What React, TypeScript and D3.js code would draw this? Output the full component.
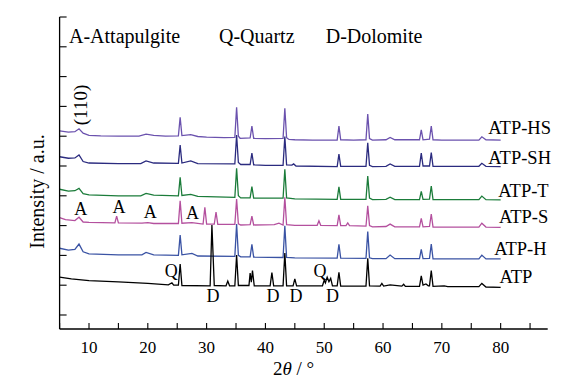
import React from "react";
import * as d3 from "d3";

type Pt = [number, number];

const seriesNames = ["ATP-HS", "ATP-SH", "ATP-T", "ATP-S", "ATP-H", "ATP"];
const seriesColors = ["#6b52ae", "#2b2b7f", "#1b7c3a", "#b4509e", "#3a53a4", "#000000"];

const atpHS: Pt[] = [
  [5, 6.18], [6.5, 6.14], [7.6, 6.15], [8.3, 6.25], [9.0, 6.1], [10, 6.03], [12, 6.01], [15, 6.0], [18.5, 6.0],
  [19.7, 6.07], [21, 6.03], [23, 6.0], [25.2, 6.01], [25.5, 6.63], [25.8, 6.02], [27.3, 6.05], [28.5, 5.99],
  [30, 5.97], [33, 5.95], [34.8, 5.96], [35.1, 6.97], [35.4, 6.0], [35.7, 5.93], [37.4, 5.94], [37.7, 6.34],
  [38.0, 5.93], [40, 5.92], [43.0, 5.93], [43.3, 6.94], [43.6, 5.95], [44, 5.89], [45, 5.88], [48, 5.87],
  [52.2, 5.87], [52.5, 6.34], [52.8, 5.88], [55, 5.87], [57.1, 5.88], [57.4, 6.74], [57.7, 5.92], [58.2, 5.87],
  [60.5, 5.88], [61.2, 5.96], [62, 5.88], [66.2, 5.88], [66.5, 6.21], [66.8, 5.88], [67.9, 5.9], [68.2, 6.34],
  [68.5, 5.88], [70, 5.87], [76.3, 5.87], [76.8, 5.98], [77.5, 5.88], [80, 5.87],
];

const atpSH: Pt[] = [
  [5, 5.31], [6.5, 5.26], [7.6, 5.27], [8.3, 5.37], [9.0, 5.15], [10, 5.1], [15, 5.08], [18.8, 5.08],
  [19.7, 5.17], [21, 5.1], [25.2, 5.09], [25.5, 5.7], [25.8, 5.1], [27.3, 5.17], [28.5, 5.08], [34.8, 5.07],
  [35.1, 6.04], [35.4, 5.12], [35.8, 5.05], [37.4, 5.05], [37.7, 5.43], [38.0, 5.04], [40, 5.02], [43.0, 5.02],
  [43.3, 5.99], [43.6, 5.04], [44.5, 5.03], [44.8, 5.07], [45.2, 5.0], [52.2, 4.98], [52.5, 5.4], [52.8, 4.99],
  [57.1, 4.99], [57.4, 5.78], [57.7, 5.02], [58.2, 4.98], [60.5, 4.99], [61.2, 5.07], [62, 4.99], [66.2, 4.99],
  [66.5, 5.43], [66.8, 5.0], [67.9, 5.0], [68.2, 5.45], [68.5, 4.99], [76.3, 4.99], [76.8, 5.09], [77.5, 4.99],
  [80, 4.98],
];

const atpT: Pt[] = [
  [5, 4.22], [6.5, 4.16], [7.6, 4.17], [8.3, 4.25], [9.0, 4.07], [10, 4.03], [15, 4.0], [18.8, 4.0],
  [19.7, 4.08], [21, 4.02], [25.2, 4.0], [25.5, 4.62], [25.8, 4.01], [27.3, 4.05], [28.5, 3.98], [34.8, 3.95],
  [35.1, 4.92], [35.4, 4.0], [35.8, 3.93], [37.4, 3.93], [37.7, 4.31], [38.0, 3.92], [43.0, 3.92], [43.3, 4.89],
  [43.6, 3.93], [45, 3.9], [52.2, 3.88], [52.5, 4.3], [52.8, 3.88], [57.1, 3.88], [57.4, 4.66], [57.7, 3.92],
  [58.2, 3.87], [60.5, 3.88], [61.2, 3.95], [62, 3.87], [66.2, 3.87], [66.5, 4.15], [66.8, 3.88], [67.9, 3.89],
  [68.2, 4.33], [68.5, 3.87], [76.3, 3.87], [76.8, 3.99], [77.5, 3.87], [80, 3.86],
];

const atpS: Pt[] = [
  [5, 3.27], [6, 3.2], [7.6, 3.17], [8.3, 3.28], [9.0, 3.12], [10, 3.11], [14.4, 3.09], [14.7, 3.32],
  [15.0, 3.09], [19, 3.08], [20, 3.1], [21, 3.07], [25.2, 3.07], [25.5, 3.83], [25.8, 3.08], [27.5, 3.1],
  [29.4, 3.05], [29.7, 3.61], [30.0, 3.05], [31.3, 3.05], [31.6, 3.45], [31.9, 3.04], [34.8, 3.04], [35.1, 3.89],
  [35.4, 3.06], [35.8, 3.02], [37.4, 3.03], [37.7, 3.32], [38.0, 3.02], [41.5, 3.03], [42.3, 3.08], [43.0, 3.02],
  [43.3, 3.95], [43.6, 3.03], [45, 3.01], [48.8, 3.01], [49.1, 3.16], [49.4, 3.01], [52.2, 3.0], [52.5, 3.36],
  [52.8, 3.0], [53.7, 3.0], [54.0, 3.09], [54.3, 3.0], [57.1, 2.98], [57.4, 3.66], [57.7, 3.0], [58.2, 2.96],
  [60.5, 2.97], [61.2, 3.05], [62, 2.96], [66.2, 2.96], [66.5, 3.24], [66.8, 2.96], [67.9, 2.97], [68.2, 3.39],
  [68.5, 2.95], [76.3, 2.95], [76.8, 3.08], [77.5, 2.95], [80, 2.94],
];

const atpH: Pt[] = [
  [5, 2.24], [6.5, 2.18], [7.6, 2.2], [8.3, 2.38], [9.0, 2.12], [10, 2.05], [15, 2.02], [19, 2.02],
  [19.7, 2.1], [21, 2.02], [25.2, 2.0], [25.5, 2.68], [25.8, 2.02], [27.5, 2.07], [28.5, 1.98], [34.8, 1.97],
  [35.1, 3.05], [35.4, 2.0], [35.8, 1.95], [37.4, 1.95], [37.7, 2.37], [38.0, 1.94], [43.0, 1.93], [43.3, 2.99],
  [43.6, 1.93], [45, 1.92], [52.2, 1.91], [52.5, 2.37], [52.8, 1.91], [57.1, 1.9], [57.4, 2.8], [57.7, 1.92],
  [58.2, 1.89], [60.5, 1.89], [61.2, 2.01], [62, 1.89], [66.2, 1.89], [66.5, 2.2], [66.8, 1.89], [67.9, 1.9],
  [68.2, 2.38], [68.5, 1.88], [76.3, 1.88], [76.8, 2.01], [77.5, 1.88], [80, 1.88],
];

const atp: Pt[] = [
  [5, 1.27], [7, 1.21], [10, 1.15], [15, 1.11], [20, 1.06], [23.5, 1.01], [24.1, 1.08], [24.4, 1.0],
  [25.2, 1.0], [25.5, 1.71], [25.8, 0.99], [30.6, 0.98], [30.9, 3.02], [31.3, 0.99], [33.3, 0.98], [33.6, 1.14],
  [33.9, 0.98], [34.8, 0.98], [35.1, 2.01], [35.4, 0.99], [37.2, 0.99], [37.4, 1.41], [37.6, 1.1], [37.8, 1.49],
  [38.1, 0.98], [40.8, 0.98], [41.1, 1.42], [41.4, 0.98], [43.0, 0.98], [43.3, 2.08], [43.6, 0.98], [44.7, 0.98],
  [45.0, 1.21], [45.3, 0.98], [49.7, 0.98], [50.0, 1.17], [50.2, 1.08], [50.5, 1.27], [50.8, 1.12], [51.1, 1.23],
  [51.4, 0.98], [52.2, 0.98], [52.5, 1.43], [52.8, 0.97], [57.1, 0.97], [57.4, 1.9], [57.7, 0.98], [59.5, 0.97],
  [59.8, 1.06], [60.1, 0.97], [61.2, 1.01], [63.2, 0.97], [63.5, 1.03], [63.8, 0.96], [66.2, 0.96], [66.5, 1.31],
  [66.8, 1.0], [67.3, 1.04], [67.7, 0.98], [67.9, 0.98], [68.2, 1.49], [68.5, 0.96], [70.4, 0.98], [71, 0.95],
  [76.3, 0.95], [76.8, 1.06], [77.5, 0.94], [80, 0.93],
];

const seriesData: Pt[][] = [atpHS, atpSH, atpT, atpS, atpH, atp];

// label anchor positions [2θ, intensity] for series names
const seriesLabelPos: Pt[] = [[77.9, 6.07], [77.9, 5.07], [79.6, 3.97], [79.7, 3.08], [78.9, 2.01], [79.8, 1.06]];

// phase markers: letter, 2θ, intensity (baseline)
const peakMarks: [string, number, number][] = [
  ["A", 8.6, 3.36], ["A", 15.1, 3.41], ["A", 20.4, 3.24], ["A", 27.6, 3.21],
  ["Q", 24.0, 1.27], ["D", 31.1, 0.45], ["D", 41.3, 0.45], ["D", 45.2, 0.45],
  ["Q", 49.3, 1.29], ["D", 51.4, 0.45],
];

const xTickLabels = [10, 20, 30, 40, 50, 60, 70, 80];
const xMinorTicks = [5, 10, 15, 20, 25, 30, 35, 40, 45, 50, 55, 60, 65, 70, 75, 80, 85];
const yTicks = [0, 1, 2, 3, 4, 5, 6, 7, 8, 9, 10];

const legendItems = ["A-Attapulgite", "Q-Quartz", "D-Dolomite"];

const FONT = "Liberation Serif, Times New Roman, DejaVu Serif, serif";

export default function App() {
  const W = 586, H = 381;
  const x = d3.scaleLinear().domain([5, 88]).range([59.6, 547.7]);
  const y = d3.scaleLinear().domain([-0.47, 10]).range([329, 17]);
  const line = d3.line<Pt>().x((d) => x(d[0])).y((d) => y(d[1]));
  const legendX = [69, 219, 325.7];
  const ts = (size: number): React.CSSProperties => ({ fontFamily: FONT, fontSize: size + "px" });

  return (
    <svg width={W} height={H} style={{ position: "absolute", left: 0, top: 0, background: "#fff" }}>
      <rect x={0} y={0} width={W} height={H} fill="#fff" />
      {seriesData.map((s, i) => (
        <path key={i} d={line(s) || ""} fill="none" stroke={seriesColors[i]} strokeWidth={1.3} strokeLinejoin="miter" />
      ))}
      {/* axes */}
      <line x1={x(5)} x2={x(88)} y1={y(-0.47)} y2={y(-0.47)} stroke="#000" strokeWidth={1.3} />
      <line x1={x(5)} x2={x(5)} y1={y(-0.47)} y2={y(10)} stroke="#000" strokeWidth={1.3} />
      {xMinorTicks.map((t) => (
        <line key={"xt" + t} x1={x(t)} x2={x(t)} y1={y(-0.47)} y2={y(-0.47) - 6} stroke="#000" strokeWidth={1.1} />
      ))}
      {xTickLabels.map((t) => (
        <text key={"xl" + t} x={x(t)} y={352.5} style={ts(17)} textAnchor="middle" fill="#000">{t}</text>
      ))}
      {yTicks.map((t) => (
        <line key={"yt" + t} x1={x(5)} x2={x(5) + 7} y1={y(t)} y2={y(t)} stroke="#000" strokeWidth={1.1} />
      ))}
      {/* axis titles */}
      <text transform={`translate(44,191.5) rotate(-90)`} style={ts(20)} textAnchor="middle" fill="#000">Intensity / a.u.</text>
      <text x={273} y={375} style={ts(19)} fill="#000">
        2<tspan fontStyle="italic">θ</tspan> / °
      </text>
      {/* legend text */}
      {legendItems.map((t, i) => (
        <text key={t} x={legendX[i]} y={43.3} style={ts(20)} fill="#000">{t}</text>
      ))}
      <text transform={`translate(87,105) rotate(-90)`} style={ts(19)} textAnchor="middle" fill="#000">(110)</text>
      {seriesNames.map((n, i) => (
        <text key={n} x={x(seriesLabelPos[i][0])} y={y(seriesLabelPos[i][1])} style={ts(18.5)} fill="#000">{n}</text>
      ))}
      {peakMarks.map((m, i) => (
        <text key={"pm" + i} x={x(m[1])} y={y(m[2])} style={ts(18)} textAnchor="middle" fill="#000">{m[0]}</text>
      ))}
    </svg>
  );
}
